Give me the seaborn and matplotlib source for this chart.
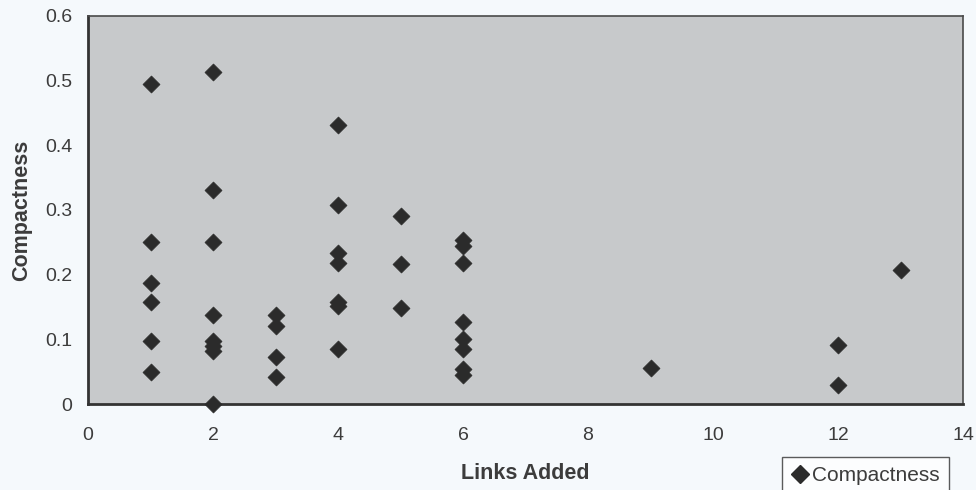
import matplotlib
matplotlib.use("Agg")
import matplotlib.pyplot as plt
import seaborn as sns
import pandas as pd
from matplotlib.lines import Line2D

# Links added per network and the resulting compactness
links_1 = [1, 1, 1, 1, 1, 1]
comp_1 = [0.495, 0.250, 0.187, 0.158, 0.097, 0.049]
links_2 = [2, 2, 2, 2, 2, 2, 2, 2]
comp_2 = [0.514, 0.331, 0.250, 0.137, 0.097, 0.090, 0.082, 0.0]
links_3 = [3, 3, 3, 3]
comp_3 = [0.138, 0.120, 0.073, 0.041]
links_4 = [4, 4, 4, 4, 4, 4, 4]
comp_4 = [0.431, 0.307, 0.233, 0.218, 0.157, 0.151, 0.085]
links_5 = [5, 5, 5]
comp_5 = [0.290, 0.216, 0.149]
links_6 = [6, 6, 6, 6, 6, 6, 6, 6]
comp_6 = [0.253, 0.245, 0.218, 0.127, 0.100, 0.085, 0.054, 0.045]
links_hi = [9, 12, 12, 13]
comp_hi = [0.055, 0.091, 0.029, 0.207]

x_ticks = [0, 2, 4, 6, 8, 10, 12, 14]
y_ticks = [0, 0.1, 0.2, 0.3, 0.4, 0.5, 0.6]
y_tick_labels = ["0", "0.1", "0.2", "0.3", "0.4", "0.5", "0.6"]

df = pd.DataFrame({
    "Links Added": links_1 + links_2 + links_3 + links_4 + links_5 + links_6 + links_hi,
    "Compactness": comp_1 + comp_2 + comp_3 + comp_4 + comp_5 + comp_6 + comp_hi,
})

sns.set_style("white")
plt.rcParams["font.family"] = ["Liberation Sans", "DejaVu Sans"]

text_col = "#3c3c3c"
fig = plt.figure(figsize=(9.76, 4.9), dpi=100, facecolor="#f5f9fc")
ax = fig.add_axes([88 / 976, 1 - 404 / 490, 875 / 976, 388 / 490])
ax.set_facecolor("#c7c9cb")

sns.scatterplot(data=df, x="Links Added", y="Compactness", ax=ax,
                marker="D", s=75, color="#2b2b2b", edgecolor="#2b2b2b",
                linewidth=0.5, legend=False, zorder=3, clip_on=False)

ax.set_xlim(0, 14)
ax.set_ylim(0, 0.6)
ax.set_xticks(x_ticks)
ax.set_yticks(y_ticks)
ax.set_yticklabels(y_tick_labels)
ax.tick_params(axis="both", labelsize=14, colors=text_col, length=5,
               width=1.0, direction="inout")
ax.tick_params(axis="x", pad=14)
ax.tick_params(axis="y", pad=9)

for side in ["left", "bottom"]:
    ax.spines[side].set_color("#333333")
    ax.spines[side].set_linewidth(2.0)
for side in ["top", "right"]:
    ax.spines[side].set_color("#4a4a4a")
    ax.spines[side].set_linewidth(1.2)
    ax.spines[side].set_visible(True)

ax.set_xlabel("Links Added", fontsize=15.5, fontweight="bold", color=text_col)
ax.set_ylabel("Compactness", fontsize=15.5, fontweight="bold", color=text_col)
ax.xaxis.set_label_coords(0.5, -0.152)
ax.yaxis.set_label_coords(-0.064, 0.5)

handle = Line2D([], [], marker="D", linestyle="none", markersize=9,
                color="#2b2b2b")
leg = fig.legend([handle], ["Compactness"], loc="upper left",
                 bbox_to_anchor=(782 / 976, 1 - 457 / 490), fontsize=15,
                 frameon=True, fancybox=False, handlelength=0.8,
                 handletextpad=0.2, borderpad=0.45, borderaxespad=0.0,
                 labelcolor=text_col)
leg.get_frame().set_edgecolor("#333333")
leg.get_frame().set_linewidth(1.0)
leg.get_frame().set_facecolor("#ffffff")

fig.savefig("out.png", dpi=100, facecolor=fig.get_facecolor())
